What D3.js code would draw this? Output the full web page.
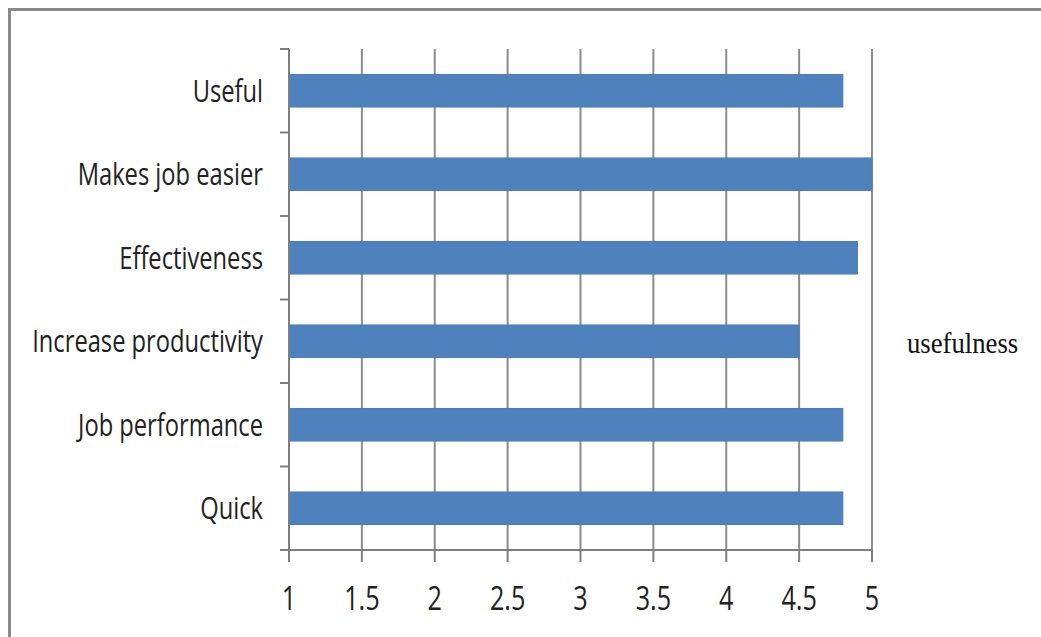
<!DOCTYPE html>
<html>
<head>
<meta charset="utf-8">
<script src="https://cdn.jsdelivr.net/npm/d3@7"></script>
<style>
  body { margin: 0; background: #fff; }
  .cat-label { font-family: "Open Sans", sans-serif; fill: #222; }
  .tick-label { font-family: "Open Sans", sans-serif; fill: #222; }
  .legend { font-family: "Liberation Serif", serif; fill: #111; }
</style>
</head>
<body>
<div class="container"></div>
<script>
var categories = ['Useful', 'Makes job easier', 'Effectiveness', 'Increase productivity', 'Job performance', 'Quick'];
var values = [4.8, 5.0, 4.9, 4.5, 4.8, 4.8];
var tickValues = [1, 1.5, 2, 2.5, 3, 3.5, 4, 4.5, 5];
var seriesName = 'usefulness';

var width = 1041, height = 637;
var margin = { left: 289, right: 169, top: 49, bottom: 87 };

var svg = d3.select('.container')
  .append('svg')
    .attr('width', width)
    .attr('height', height);

// frame (only top / left edges visible in the original crop)
svg.append('path')
    .attr('d', 'M9.5,' + height + 'V9.5H' + width)
    .attr('fill', 'none')
    .attr('stroke', '#8a8a8a')
    .attr('stroke-width', 3);

var x = d3.scaleLinear()
    .domain([1, 5])
    .range([margin.left, width - margin.right]);

var y = d3.scaleBand()
    .domain(categories)
    .range([margin.top, height - margin.bottom])
    .paddingInner(0.61)
    .paddingOuter(0.305);

var yEdges = d3.scaleLinear()
    .domain([0, categories.length])
    .range([margin.top, height - margin.bottom]);

var plotBottom = height - margin.bottom;

// vertical gridlines
svg.append('g')
    .attr('stroke', '#8c8c8c')
    .attr('stroke-width', 2)
  .selectAll('line')
  .data(tickValues.slice(1))
  .enter().append('line')
    .attr('x1', function(d) { return x(d); })
    .attr('x2', function(d) { return x(d); })
    .attr('y1', margin.top)
    .attr('y2', plotBottom);

// bars
svg.append('g')
  .selectAll('rect')
  .data(values)
  .enter().append('rect')
    .attr('x', x(1))
    .attr('y', function(d, i) { return y(categories[i]); })
    .attr('width', function(d) { return x(d) - x(1); })
    .attr('height', y.bandwidth())
    .attr('fill', '#4f81bd')
    .attr('stroke', '#4a7dba')
    .attr('stroke-width', 1);

// y axis line + category ticks
var axisG = svg.append('g')
    .attr('stroke', '#7f7f7f')
    .attr('stroke-width', 2);
axisG.append('line')
    .attr('x1', x(1)).attr('x2', x(1))
    .attr('y1', margin.top).attr('y2', plotBottom + 12);
axisG.selectAll('.ytick')
  .data(d3.range(categories.length))
  .enter().append('line')
    .attr('x1', x(1) - 9).attr('x2', x(1))
    .attr('y1', function(d) { return yEdges(d); })
    .attr('y2', function(d) { return yEdges(d); });

// x axis line + ticks
axisG.append('line')
    .attr('x1', x(1) - 9).attr('x2', x(5))
    .attr('y1', plotBottom).attr('y2', plotBottom);
axisG.selectAll('.xtick')
  .data(tickValues)
  .enter().append('line')
    .attr('x1', function(d) { return x(d); })
    .attr('x2', function(d) { return x(d); })
    .attr('y1', plotBottom)
    .attr('y2', plotBottom + 12);

// category labels (narrow, like the squeezed original)
var sx = 0.765;
svg.append('g')
  .selectAll('text')
  .data(categories)
  .enter().append('text')
    .attr('class', 'cat-label')
    .attr('transform', function(d) {
      return 'translate(' + (x(1) - 26) + ',' + (y(d) + y.bandwidth() / 2) + ') scale(' + sx + ',1)';
    })
    .attr('text-anchor', 'end')
    .attr('dy', '0.36em')
    .style('font-size', '31px')
    .text(function(d) { return d; });

// tick labels
svg.append('g')
  .selectAll('text')
  .data(tickValues)
  .enter().append('text')
    .attr('class', 'tick-label')
    .attr('transform', function(d) {
      return 'translate(' + x(d) + ',' + (plotBottom + 48) + ') scale(' + sx + ',1)';
    })
    .attr('text-anchor', 'middle')
    .attr('dy', '0.36em')
    .style('font-size', '33px')
    .text(function(d) { return d; });

// legend text (no swatch in original)
svg.append('text')
    .attr('class', 'legend')
    .attr('transform', 'translate(907,' + (yEdges(3.5) + 12) + ') scale(0.89,1)')
    .style('font-size', '30px')
    .text(seriesName);
</script>
</body>
</html>
